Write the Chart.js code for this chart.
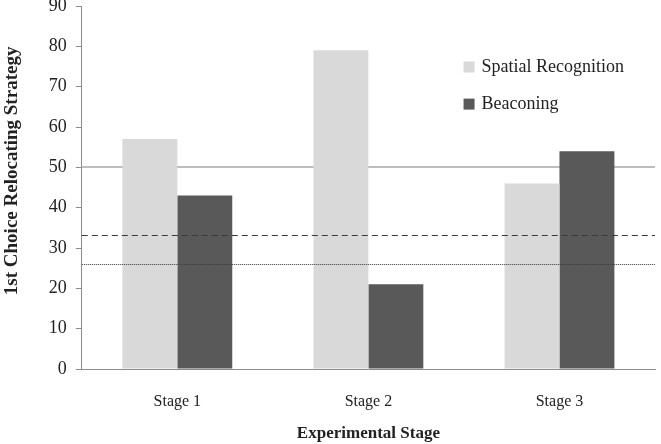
<!DOCTYPE html>
<html>
<head>
<meta charset="utf-8">
<script src="https://cdn.jsdelivr.net/npm/chart.js@4/dist/chart.umd.min.js"></script>
<style>
  html, body { margin: 0; padding: 0; background: #fff; }
  #wrap { width: 661px; height: 444px; }
</style>
</head>
<body>
<div id="wrap"><canvas id="grafico"></canvas></div>
<script>
/* ---------- data ---------- */
const etapas = ["Stage 1", "Stage 2", "Stage 3"];
const spatial = [57, 79, 46];
const beaconing = [43, 21, 54];
const yTicks = [0, 10, 20, 30, 40, 50, 60, 70, 80, 90];

// reference lines: solid at 50, dashed at ~33.3, dotted at ~26
const lineaSolida = 50;
const lineaGuiones = 33.3;
const lineaPuntos = 26;

const SERIF = "'Liberation Serif', 'Times New Roman', serif";

/* ---------- plugins ---------- */
function trazarLinea(chart, v, color, dash, w) {
  const { ctx, chartArea: a, scales: { y } } = chart;
  const py = Math.round(y.getPixelForValue(v)) + (w % 2 ? 0.5 : 0);
  ctx.save();
  ctx.strokeStyle = color;
  ctx.lineWidth = w;
  ctx.setLineDash(dash);
  ctx.beginPath();
  ctx.moveTo(a.left, py);
  ctx.lineTo(a.right, py);
  ctx.stroke();
  ctx.restore();
}

const lineasRef = {
  id: "lineasRef",
  beforeDatasetsDraw(chart) {
    trazarLinea(chart, lineaSolida, "#bdbdbd", [], 2);
  },
  afterDatasetsDraw(chart) {
    trazarLinea(chart, lineaGuiones, "#3a3a3a", [6, 4], 1);
    trazarLinea(chart, lineaPuntos, "#3a3a3a", [1, 1], 1);
  }
};

const leyenda = {
  id: "leyenda",
  afterDraw(chart) {
    const { ctx, chartArea: a, scales: { y } } = chart;
    const x0 = a.left + (a.right - a.left) * 0.666;
    const filas = [75, 65.8];
    ctx.save();
    ctx.font = "18px " + SERIF;
    ctx.textBaseline = "middle";
    chart.data.datasets.forEach((ds, i) => {
      const py = y.getPixelForValue(filas[i]);
      ctx.fillStyle = ds.backgroundColor;
      ctx.fillRect(x0, py - 5, 11, 11);
      ctx.fillStyle = "#222";
      ctx.fillText(ds.label, x0 + 18, py + 1);
    });
    ctx.restore();
  }
};

/* ---------- chart ---------- */
new Chart(document.getElementById("grafico"), {
  type: "bar",
  data: {
    labels: etapas,
    datasets: [
      { label: "Spatial Recognition", data: spatial, backgroundColor: "#d9d9d9" },
      { label: "Beaconing", data: beaconing, backgroundColor: "#595959" }
    ]
  },
  options: {
    responsive: true,
    maintainAspectRatio: false,
    animation: false,
    categoryPercentage: 0.575,
    barPercentage: 1.0,
    layout: { padding: { top: 0, right: 6, left: 0, bottom: 0 } },
    plugins: { legend: { display: false }, tooltip: { enabled: false } },
    scales: {
      x: {
        afterFit: s => { s.height = 75; },
        grid: { display: false },
        border: { color: "#8c8c8c", width: 1 },
        ticks: { color: "#222", font: { family: SERIF, size: 16 }, padding: 15 },
        title: {
          display: true, text: "Experimental Stage", color: "#222",
          font: { family: SERIF, size: 17, weight: "bold" }, padding: { top: 0, bottom: 0 }
        }
      },
      y: {
        min: 0, max: 90,
        afterBuildTicks: s => { s.ticks = yTicks.map(v => ({ value: v })); },
        afterFit: s => { s.paddingTop = 6; },
        grid: { drawOnChartArea: false, tickLength: 6, color: "#8c8c8c" },
        border: { color: "#8c8c8c", width: 1 },
        ticks: { color: "#222", font: { family: SERIF, size: 18 }, padding: 9 },
        title: {
          display: true, text: "\u00a0".repeat(7) + "1st Choice Relocating Strategy", color: "#222",
          font: { family: SERIF, size: 19, weight: "bold" }, padding: { top: 1, bottom: 16 }
        }
      }
    }
  },
  plugins: [lineasRef, leyenda]
});
</script>
</body>
</html>
